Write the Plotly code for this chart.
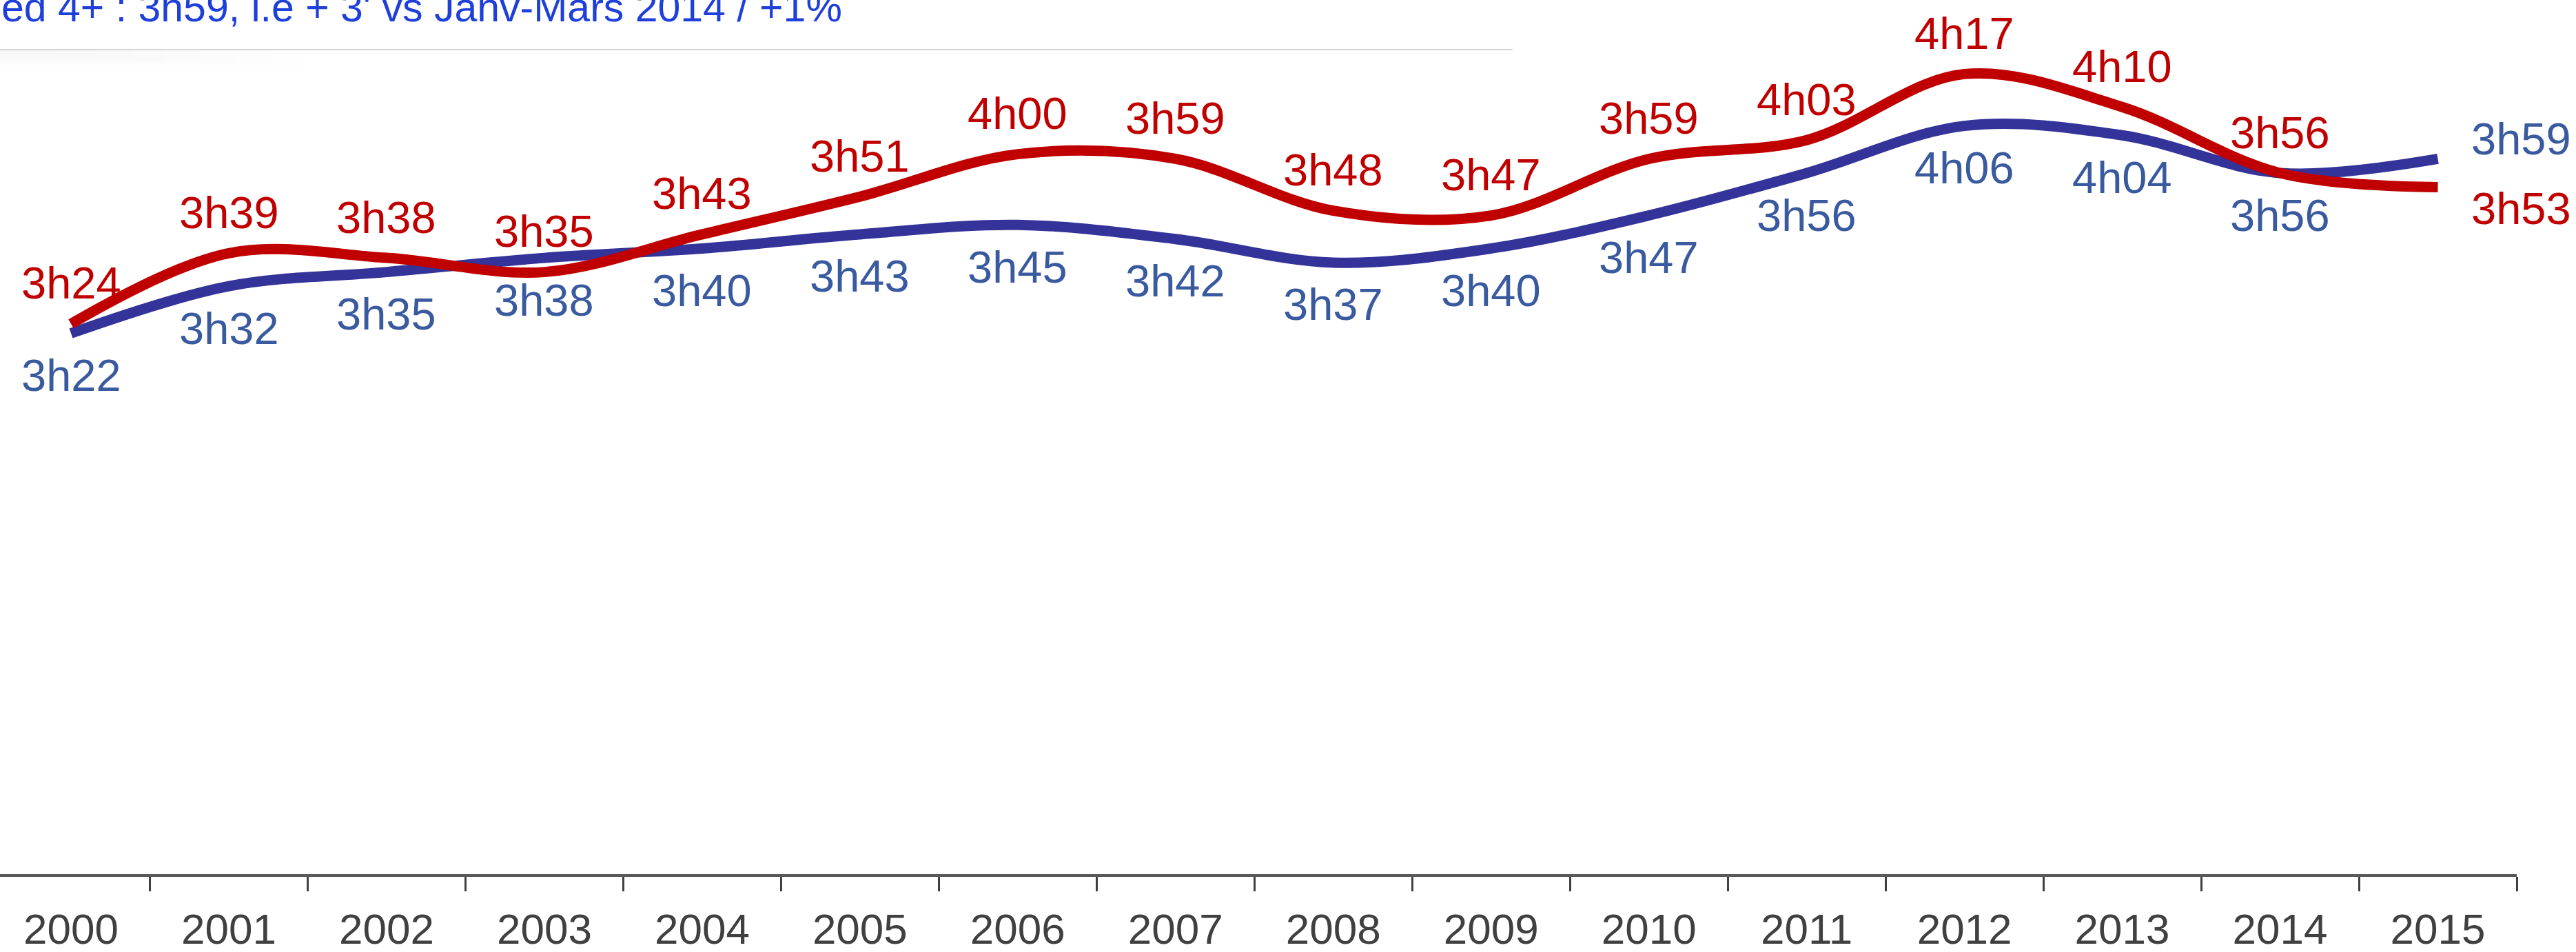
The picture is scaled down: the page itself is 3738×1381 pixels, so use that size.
import plotly.graph_objects as go

# Years on the category axis
years = [str(y) for y in range(2000, 2016)]

# Daily viewing time, in minutes, for the two series
red_minutes = [204, 219, 218, 215, 223, 231, 240, 239, 228, 227, 239, 243, 257, 250, 236, 233]
blue_minutes = [202, 212, 215, 218, 220, 223, 225, 222, 217, 220, 227, 236, 246, 244, 236, 239]

header_text = "ed 4+ : 3h59, i.e + 3' vs Janv-Mars 2014 / +1%"

RED = "#C00000"
BLUE_LINE = "#333399"
BLUE_TEXT = "#3A5A9F"
AXIS_GREY = "#404040"
FONT = "Liberation Sans"

PLOT_W = 3652   # plot area width in px
PLOT_H = 1268   # plot area height in px


def fmt(m):
    return f"{m // 60}h{m % 60:02d}"


fig = go.Figure()

fig.add_trace(go.Scatter(
    x=years, y=blue_minutes, mode="lines",
    line=dict(color=BLUE_LINE, width=15, shape="spline", smoothing=1.0),
    hoverinfo="skip", showlegend=False,
))
fig.add_trace(go.Scatter(
    x=years, y=red_minutes, mode="lines",
    line=dict(color=RED, width=15, shape="spline", smoothing=1.0),
    hoverinfo="skip", showlegend=False,
))

annotations = []
last = len(years) - 1
for i in range(len(years)):
    if i < last:
        annotations.append(dict(
            x=i, y=red_minutes[i], xref="x", yref="y", text=fmt(red_minutes[i]),
            showarrow=False, yshift=59, xanchor="center", yanchor="middle",
            font=dict(family=FONT, size=65, color=RED),
        ))
        annotations.append(dict(
            x=i, y=blue_minutes[i], xref="x", yref="y", text=fmt(blue_minutes[i]),
            showarrow=False, yshift=-61, xanchor="center", yanchor="middle",
            font=dict(family=FONT, size=65, color=BLUE_TEXT),
        ))
    else:
        # final year: labels sit to the right of the line ends
        annotations.append(dict(
            x=i, y=red_minutes[i], xref="x", yref="y", text=fmt(red_minutes[i]),
            showarrow=False, xshift=46, yshift=-31, xanchor="left", yanchor="middle",
            font=dict(family=FONT, size=65, color=RED),
        ))
        annotations.append(dict(
            x=i, y=blue_minutes[i], xref="x", yref="y", text=fmt(blue_minutes[i]),
            showarrow=False, xshift=46, yshift=29, xanchor="left", yanchor="middle",
            font=dict(family=FONT, size=65, color=BLUE_TEXT),
        ))

# header line of text, partly cut off by the top edge
annotations.append(dict(
    x=0, y=1, xref="paper", yref="paper", text=header_text,
    showarrow=False, xanchor="left", yanchor="bottom", xshift=0, yshift=-46,
    font=dict(family=FONT, size=59, color="#1F3FDA"),
))

# thin rule under the header, with a faint shadow fading to the right
rule_y = 1 - 72 / PLOT_H
shapes = []
for k in range(8):
    w = 440 - k * 50
    h = 26 - k * 2.5
    shapes.append(dict(
        type="rect", xref="paper", yref="paper", layer="below",
        x0=0, x1=w / PLOT_W, y0=rule_y - h / PLOT_H, y1=rule_y,
        fillcolor="rgba(0,0,0,0.0035)", line=dict(width=0),
    ))
shapes.append(dict(
    type="line", xref="paper", yref="paper",
    x0=0, x1=2195 / PLOT_W, y0=rule_y, y1=rule_y,
    line=dict(color="#D4D4D4", width=2),
))

fig.update_layout(
    width=3738, height=1381,
    margin=dict(l=0, r=3738 - PLOT_W, t=0, b=1381 - PLOT_H),
    paper_bgcolor="white", plot_bgcolor="white",
    annotations=annotations,
    shapes=shapes,
    xaxis=dict(
        type="category", categoryorder="array", categoryarray=years,
        range=[-0.45, 15.5], automargin=False,
        showline=True, linecolor="#595959", linewidth=4,
        ticks="outside", tickson="boundaries", ticklen=21, tickwidth=3, tickcolor=AXIS_GREY,
        tickfont=dict(family=FONT, size=62, color=AXIS_GREY),
        ticklabelstandoff=23,
        showgrid=False, zeroline=False,
    ),
    yaxis=dict(range=[87.3, 272.7], visible=False, showgrid=False, zeroline=False),
)

fig.write_html("out.html")
